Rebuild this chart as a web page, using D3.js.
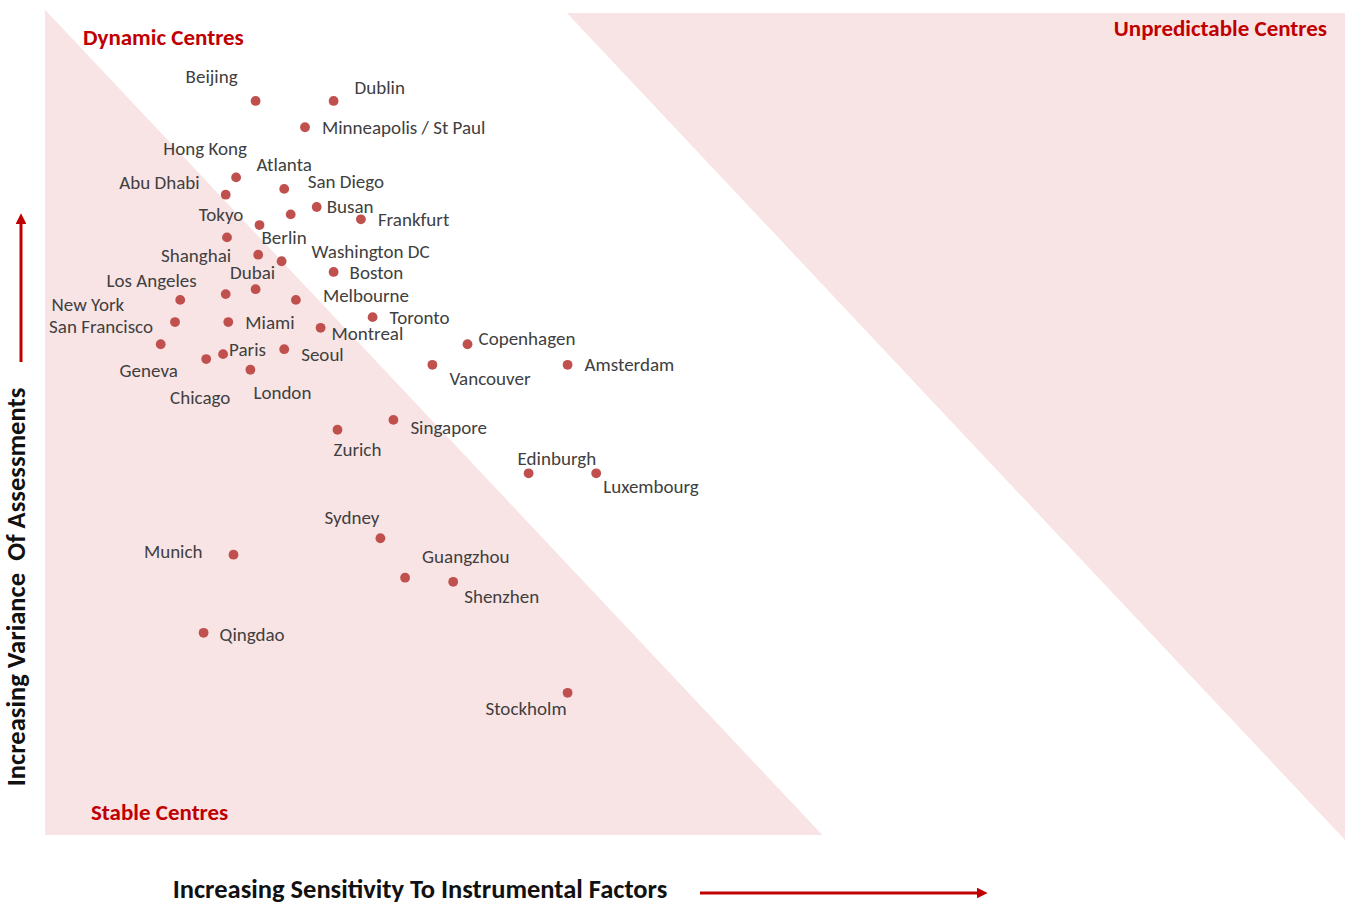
<!DOCTYPE html>
<html>
<head>
<meta charset="utf-8">
<script src="https://cdn.jsdelivr.net/npm/d3@7"></script>
<style>
  html, body { margin: 0; padding: 0; background: #fff; }
  svg { display: block; }
  text { font-family: Carlito, Calibri, "Open Sans", sans-serif; }
</style>
</head>
<body>
<svg id="chart" width="1349" height="904"></svg>
<script>
// Financial centres: sensitivity to instrumental factors (x) vs variance of assessments (y)
const cities = [
  "Beijing", "Dublin", "Minneapolis / St Paul", "Hong Kong", "Abu Dhabi", "Atlanta",
  "San Diego", "Busan", "Frankfurt", "Tokyo", "Berlin", "Shanghai", "Washington DC",
  "Boston", "Dubai", "Los Angeles", "Melbourne", "New York", "San Francisco", "Miami",
  "Montreal", "Toronto", "Copenhagen", "Paris", "Seoul", "Geneva", "Vancouver",
  "Amsterdam", "Chicago", "London", "Singapore", "Zurich", "Edinburgh", "Luxembourg",
  "Sydney", "Munich", "Guangzhou", "Shenzhen", "Qingdao", "Stockholm"
];
const sensitivity = [
  16.2, 22.2, 20.0, 14.7, 13.9, 18.4,
  18.9, 20.9, 24.3, 14.0, 16.5, 16.4, 18.2,
  22.2, 16.2, 13.9, 19.3, 10.4, 10.0, 14.1,
  21.2, 25.2, 32.5, 13.7, 18.4, 8.9, 29.8,
  40.2, 12.4, 15.8, 26.8, 22.5, 37.2, 42.4,
  25.8, 14.5, 27.7, 31.4, 12.2, 40.2
];
const variance = [
  89.3, 89.3, 86.1, 80.0, 77.9, 78.6,
  75.5, 76.4, 74.9, 72.7, 74.2, 70.6, 69.8,
  68.5, 66.4, 65.8, 65.1, 65.1, 62.4, 62.4,
  61.7, 63.0, 59.7, 58.5, 59.1, 59.7, 57.2,
  57.2, 57.9, 56.6, 50.5, 49.3, 44.0, 44.0,
  36.1, 34.1, 31.3, 30.8, 24.6, 17.3
];

// Zone outlines in the same units as the data
const stableZone = [[0, 100.4], [0, 0], [59.8, 0]];
const unpredictableZone = [[40.15, 100], [100, 100], [100, -0.6]];

// Label placement per city: anchor and pixel offset from the dot
const labelPlacement = {
  "Beijing": ["middle", -44, -24], "Dublin": ["start", 21, -13],
  "Minneapolis / St Paul": ["start", 17, 1], "Hong Kong": ["middle", -31, -28],
  "Abu Dhabi": ["end", -26, -12], "Atlanta": ["middle", 0, -24],
  "San Diego": ["start", 17, -32], "Busan": ["start", 10, 0],
  "Frankfurt": ["start", 17, 1], "Tokyo": ["middle", -6, -22],
  "Berlin": ["start", 2, 13], "Shanghai": ["end", -27, 1],
  "Washington DC": ["start", 30, -9], "Boston": ["start", 16, 1],
  "Dubai": ["middle", -3, -16], "Los Angeles": ["end", -29, -13],
  "Melbourne": ["start", 27, -4], "New York": ["end", -56, 5],
  "San Francisco": ["end", -22, 5], "Miami": ["start", 17, 1],
  "Montreal": ["start", 11, 6], "Toronto": ["start", 17, 1],
  "Copenhagen": ["start", 11, -5], "Paris": ["start", 6, -4],
  "Seoul": ["start", 17, 6], "Geneva": ["middle", -12, 27],
  "Vancouver": ["start", 17, 14], "Amsterdam": ["start", 17, 0],
  "Chicago": ["middle", -6, 39], "London": ["start", 3, 23],
  "Singapore": ["start", 17, 8], "Zurich": ["start", -4, 20],
  "Edinburgh": ["start", -11, -14], "Luxembourg": ["start", 7, 14],
  "Sydney": ["end", -1, -20], "Munich": ["end", -31, -3],
  "Guangzhou": ["start", 17, -21], "Shenzhen": ["start", 11, 15],
  "Qingdao": ["start", 16, 2], "Stockholm": ["end", -1, 16]
};

const svg = d3.select("#chart");
const x = d3.scaleLinear().domain([0, 100]).range([45, 1345]);
const y = d3.scaleLinear().domain([0, 100]).range([835, 13]);

const zoneLine = d3.line().x(d => x(d[0])).y(d => y(d[1])).curve(d3.curveLinearClosed);
const zoneFill = "#f9e4e5";

svg.append("path").attr("d", zoneLine(stableZone)).attr("fill", zoneFill);
svg.append("path").attr("d", zoneLine(unpredictableZone)).attr("fill", zoneFill);

// Zone titles
const titleColor = "#c00000";
const titleSize = 23;
svg.append("text").attr("x", 83).attr("y", 39).attr("dominant-baseline", "middle")
  .attr("font-size", titleSize).attr("font-weight", "bold").attr("fill", titleColor)
  .text("Dynamic Centres");
svg.append("text").attr("x", 1327).attr("y", 30).attr("dominant-baseline", "middle")
  .attr("text-anchor", "end")
  .attr("font-size", titleSize).attr("font-weight", "bold").attr("fill", titleColor)
  .text("Unpredictable Centres");
svg.append("text").attr("x", 91).attr("y", 814).attr("dominant-baseline", "middle")
  .attr("font-size", titleSize).attr("font-weight", "bold").attr("fill", titleColor)
  .text("Stable Centres");

// Points
const data = cities.map((c, i) => ({ city: c, sx: sensitivity[i], vy: variance[i] }));

svg.append("g").selectAll("circle").data(data).join("circle")
  .attr("cx", d => x(d.sx)).attr("cy", d => y(d.vy)).attr("r", 4.9)
  .attr("fill", "#c0504d");

svg.append("g").selectAll("text").data(data).join("text")
  .attr("x", d => x(d.sx) + labelPlacement[d.city][1])
  .attr("y", d => y(d.vy) + labelPlacement[d.city][2] + 1.5)
  .attr("text-anchor", d => labelPlacement[d.city][0])
  .attr("dominant-baseline", "middle")
  .attr("font-size", 19).attr("fill", "#404040")
  .text(d => d.city);

// Axis titles with arrows
const defs = svg.append("defs");
defs.append("marker").attr("id", "arrow").attr("viewBox", "0 0 10 10")
  .attr("refX", 2).attr("refY", 5).attr("markerWidth", 3.6).attr("markerHeight", 3.6)
  .attr("orient", "auto")
  .append("path").attr("d", "M0,0 L10,5 L0,10 Z").attr("fill", "#c00000");

svg.append("line").attr("x1", 21).attr("y1", 362).attr("x2", 21).attr("y2", 222)
  .attr("stroke", "#c00000").attr("stroke-width", 3).attr("marker-end", "url(#arrow)");
svg.append("line").attr("x1", 700).attr("y1", 893).attr("x2", 979).attr("y2", 893)
  .attr("stroke", "#c00000").attr("stroke-width", 3).attr("marker-end", "url(#arrow)");

svg.append("text")
  .attr("transform", "translate(19,587) rotate(-90)")
  .attr("text-anchor", "middle").attr("dominant-baseline", "middle")
  .attr("font-size", 26.6).attr("font-weight", "bold").attr("fill", "#111")
  .style("white-space", "pre")
  .text("Increasing Variance  Of Assessments");

svg.append("text")
  .attr("x", 420).attr("y", 892)
  .attr("text-anchor", "middle").attr("dominant-baseline", "middle")
  .attr("font-size", 26.5).attr("font-weight", "bold").attr("fill", "#111")
  .text("Increasing Sensitivity To Instrumental Factors");
</script>
</body>
</html>
